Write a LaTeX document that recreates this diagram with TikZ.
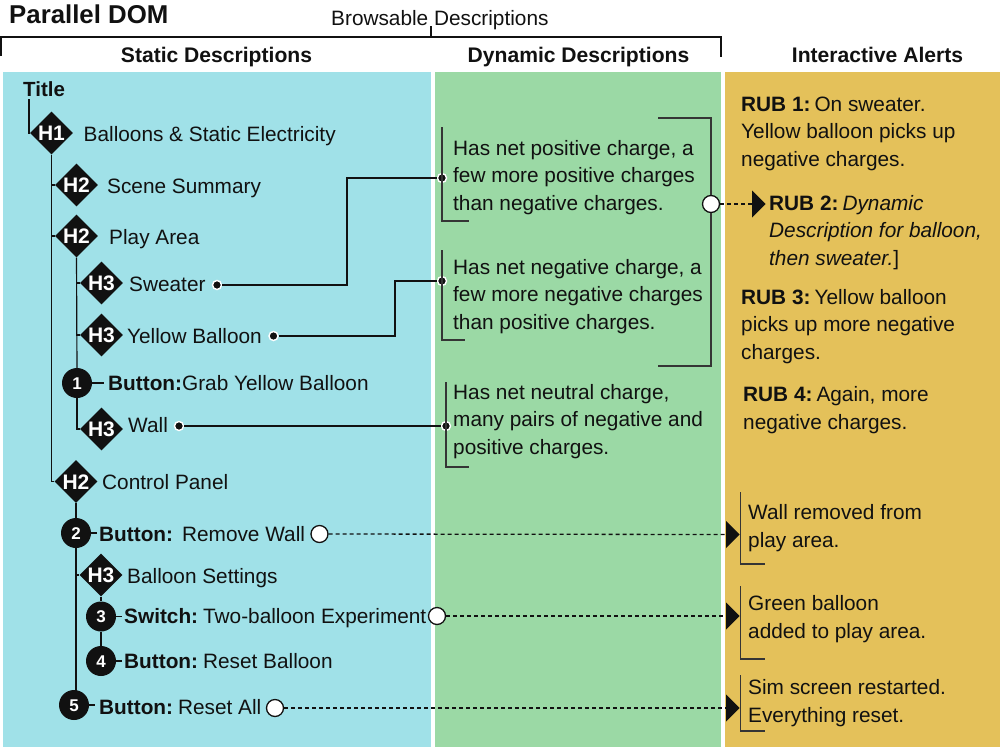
\documentclass[tikz,border=0pt]{standalone}
\usepackage{fontspec}
\setmainfont{Liberation Sans}
\usetikzlibrary{shapes.geometric}
\definecolor{bluep}{HTML}{A0E1E8}
\definecolor{greenp}{HTML}{9BD9A5}
\definecolor{yellowp}{HTML}{E4C15A}
\definecolor{ink}{HTML}{111111}
\newcommand{\mk}[1]{\raisebox{-0.36em}[0pt][0pt]{\makebox[0pt]{#1}}}
\newcommand{\rubgap}{\hspace{4pt}}
\tikzset{
  x=1pt,y=-1pt,
  txt/.style={anchor=base west,inner sep=0,align=left,text=ink,font=\fontsize{20.8}{27.4}\selectfont},
  head/.style={anchor=base,inner sep=0,text=ink,font=\fontsize{21.1}{24}\selectfont\bfseries},
  hd/.style={diamond,aspect=1,fill=ink,inner sep=0,minimum width=43,minimum height=43,text=white,font=\fontsize{21}{24}\selectfont\bfseries},
  num/.style={circle,fill=ink,inner sep=0,minimum size=30,text=white,font=\fontsize{17}{20}\selectfont\bfseries},
  dot/.style={circle,fill=ink,draw=white,line width=1.4,inner sep=0,minimum size=9},
  port/.style={circle,fill=white,draw=ink,line width=1.3,inner sep=0,minimum size=17},
  tip/.style={isosceles triangle,isosceles triangle stretches,shape border rotate=0,fill=ink,inner sep=0,minimum height=27,minimum width=13.5},
  wire/.style={draw=ink,line width=1.15},
  dashw/.style={draw=ink,line width=1.3,dash pattern=on 4pt off 3pt},
  rule/.style={draw=ink,line width=2.2},
  brk/.style={draw=ink!85,line width=1.1},
}
\begin{document}
\begin{tikzpicture}
\useasboundingbox (0,0) rectangle (1000,747);
\fill[white] (0,0) rectangle (1000,747);
\fill[bluep] (3,72) rectangle (431,747);
\fill[greenp] (435,72) rectangle (721,747);
\fill[yellowp] (725,72) rectangle (1000,747);

% top rule
\coordinate (rlb) at (1,56);
\coordinate (rrb) at (721,57);
\coordinate (rm) at (431,37);
\coordinate (rmt) at (431,26);
\draw[rule] (rlb) -- (1,37) -- (721,37) -- (rrb);
\draw[draw=ink,line width=1.2] (rm) -- (rmt);
\node[txt,font=\fontsize{25.8}{28}\selectfont\bfseries] (ttl) at (9,23) {Parallel DOM};
\node[txt] (brow) at (331,25) {Browsable Descriptions};
\node[head] (hs) at (216.5,62) {Static Descriptions};
\node[head] (hdy) at (578.5,62) {Dynamic Descriptions};
\node[head] (hi) at (877.5,62) {Interactive Alerts};

% static tree nodes
\node[txt,font=\fontsize{20.5}{24}\selectfont\bfseries] (title) at (23,96) {Title};
\node[hd] (h1) at (51.5,133) {\mk{H1}};
\node[hd] (h2a) at (76.5,185) {\mk{H2}};
\node[hd] (h2b) at (76.5,236) {\mk{H2}};
\node[hd] (h3a) at (101.5,283) {\mk{H3}};
\node[hd] (h3b) at (101.5,335) {\mk{H3}};
\node[num] (c1) at (77,383) {\mk{1}};
\node[hd] (h3c) at (101.5,429) {\mk{H3}};
\node[hd] (h2c) at (76,481.5) {\mk{H2}};
\node[num] (c2) at (76,533) {\mk{2}};
\node[hd] (h3d) at (101,575) {\mk{H3}};
\node[num] (c3) at (101,616.5) {\mk{3}};
\node[num] (c4) at (101,661) {\mk{4}};
\node[num] (c5) at (74,705) {\mk{5}};

\node[txt] (t1) at (83.5,141) {Balloons \& Static Electricity};
\node[txt] (t2) at (107,193) {Scene Summary};
\node[txt] (t3) at (109,244) {Play Area};
\node[txt] (t4) at (129,291) {Sweater};
\node[txt] (t5) at (127,343) {Yellow Balloon};
\node[txt] (t6) at (108,390) {\textbf{Button:}Grab Yellow Balloon};
\node[txt] (t7) at (128,432) {Wall};
\node[txt] (t8) at (102,489) {Control Panel};
\node[txt] (t9) at (99,541) {\textbf{Button:}\hspace{9pt}Remove Wall};
\node[txt] (t10) at (127,583) {Balloon Settings};
\node[txt] (t11) at (124,623) {\textbf{Switch:}\hspace{5pt}Two-balloon Experiment};
\node[txt] (t12) at (124,668) {\textbf{Button:}\hspace{5pt}Reset Balloon};
\node[txt] (t13) at (99,714) {\textbf{Button:}\hspace{5pt}Reset All};

% ports
\node[dot] (d1) at (217,285) {};
\node[dot] (d2) at (273.5,336) {};
\node[dot] (d3) at (179,426) {};
\node[dot] (e1) at (442,178) {};
\node[dot] (e2) at (442,281) {};
\node[dot] (e3) at (446,426) {};
\node[port] (p0) at (711,204) {};
\node[port] (p1) at (319.5,534) {};
\node[port] (p2) at (437,616) {};
\node[port] (p3) at (275,708) {};

% tips
\tikzset{tip/.append style={minimum height=13.5,minimum width=27}}
\node[tip,anchor=west] (a0) at (752,204) {};
\node[tip,anchor=west] (a1) at (726,534.5) {};
\node[tip,anchor=west] (a2) at (726,616) {};
\node[tip,anchor=west] (a3) at (726,708) {};

% dynamic text (the base anchor is the last line's baseline)
\node[txt] (dy1) at (453,210) {Has net positive charge, a\\few more positive charges\\than negative charges.};
\node[txt] (dy2) at (453,329) {Has net negative charge, a\\few more negative charges\\than positive charges.};
\node[txt] (dy3) at (453,454) {Has net neutral charge,\\many pairs of negative and\\positive charges.};

% alerts text
\node[txt] (r1) at (741,166) {\textbf{RUB 1:}\rubgap On sweater.\\Yellow balloon picks up\\negative charges.};
\node[txt] (r2) at (769,265) {\textbf{RUB 2:}\rubgap\textit{Dynamic}\\\textit{Description for balloon,}\\\textit{then sweater.}]};
\node[txt] (r3) at (741,359) {\textbf{RUB 3:}\rubgap Yellow balloon\\picks up more negative\\charges.};
\node[txt] (r4) at (743,429) {\textbf{RUB 4:}\rubgap Again, more\\negative charges.};
\node[txt] (al1) at (748,547) {Wall removed from\\play area.};
\node[txt] (al2) at (748,638) {Green balloon\\added to play area.};
\node[txt] (al3) at (748,722) {Sim screen restarted.\\Everything reset.};

% tree connectors
\coordinate (tb) at (29,99);
\draw[wire] (tb) |- (h1.west);
\draw[wire] (h1.south) |- (h2a.west);
\draw[wire] (h1.south) |- (h2b.west);
\draw[wire] (h1.south) |- (h2c.west);
\draw[wire] (h2b.south) |- (h3a.west);
\draw[wire] (h2b.south) |- (h3b.west);
\draw[wire] (h2b.south) -- (c1.north);
\draw[wire] (c1.south) |- (h3c.west);
\coordinate (k1) at (104,383);
\draw[wire] (c1.east) -- (k1);
\draw[wire] (h2c.south) -- (c2.north);
\draw[wire] (c2.south) |- (h3d.west);
\draw[wire] (c2.south) -- (c2.south |- c5.north east);
\coordinate (k2) at (97,533);
\draw[wire] (c2.east) -- (k2);
\draw[wire] (h3d.south) -- (c3.north);
\draw[wire] (c3.south) -- (c4.north);
\coordinate (k3) at (122,616.5);
\coordinate (k4) at (122,661);
\coordinate (k5) at (95,705);
\draw[wire] (c3.east) -- (k3);
\draw[wire] (c4.east) -- (k4);
\draw[wire] (c5.east) -- (k5);

% brackets
\coordinate (b1t) at (442,127); \coordinate (b1f) at (469,221);
\coordinate (b2t) at (442,250); \coordinate (b2f) at (465,340);
\coordinate (b3t) at (446,382); \coordinate (b3f) at (469,467);
\draw[brk] (b1t) |- (b1f);
\draw[brk] (b2t) |- (b2f);
\draw[brk] (b3t) |- (b3f);
\coordinate (gt) at (658,118); \coordinate (gb) at (658,366);
\draw[brk] (gt) -| (p0.north);
\draw[brk] (p0.south) |- (gb);
\coordinate (a1t) at (740.5,492); \coordinate (a1f) at (765,564);
\coordinate (a2t) at (740.5,586); \coordinate (a2f) at (765,659);
\coordinate (a3t) at (740.5,675); \coordinate (a3f) at (765,731);
\draw[brk] (a1t) |- (a1f);
\draw[brk] (a2t) |- (a2f);
\draw[brk] (a3t) |- (a3f);

% links
\coordinate (s1) at (347,285); \coordinate (s2) at (347,178);
\coordinate (s3) at (395,336); \coordinate (s4) at (395,281);
\draw[wire] (d1) -- (s1) -- (s2) -- (e1);
\draw[wire] (d2) -- (s3) -- (s4) -- (e2);
\draw[wire] (d3) -- (e3);
\draw[dashw] (p0) -- (a0);
\draw[dashw] (p1) -- (a1);
\draw[dashw] (p2) -- (a2);
\draw[dashw] (p3) -- (a3);
\end{tikzpicture}
\end{document}
